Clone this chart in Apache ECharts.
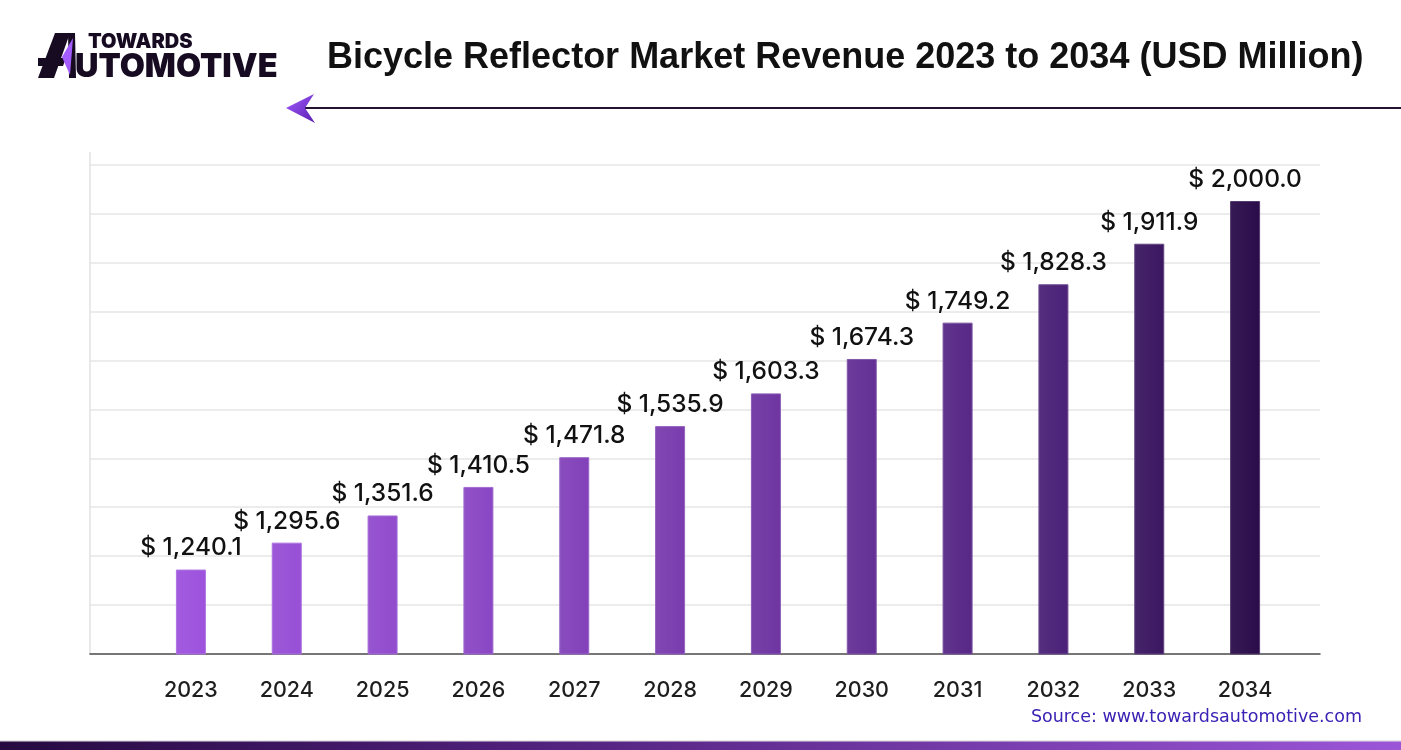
<!DOCTYPE html>
<html>
<head>
<meta charset="utf-8">
<script src="https://cdn.jsdelivr.net/npm/echarts@6/dist/echarts.min.js"></script>
<style>
html,body{margin:0;padding:0;background:#fff;}
#chart{width:1401px;height:750px;}
</style>
</head>
<body>
<div id="chart"></div>
<script>
// ---- data ----
const years = ['2023','2024','2025','2026','2027','2028','2029','2030','2031','2032','2033','2034'];
const revenue = [1240.1, 1295.6, 1351.6, 1410.5, 1471.8, 1535.9, 1603.3, 1674.3, 1749.2, 1828.3, 1911.9, 2000.0];
const titleText = 'Bicycle Reflector Market Revenue 2023 to 2034 (USD Million)';
const sourceText = 'Source: www.towardsautomotive.com';

// ---- styles ----
const barColors = ['#9d52dd','#974fd6','#914bcd','#8a46c4','#8241b9','#7a3cae','#6e35a2','#632f95','#572886','#4a2177','#3b1761','#2a0c4a'];

const chart = echarts.init(document.getElementById('chart'), null, {renderer:'canvas'});

function fmt(v){
  return '$ ' + v.toLocaleString('en-US',{minimumFractionDigits:1, maximumFractionDigits:1});
}

const option = {
  backgroundColor:'#ffffff',
  animation:false,
  title:{
    text:titleText,
    left:322, top:35,
    textStyle:{fontFamily:'Liberation Sans', fontWeight:'bold', fontSize:36, color:'#111111'}
  },
  grid:[
    {left:90, right:81, top:152.5, bottom:96},
    {left:143, right:108, top:152.5, bottom:96}
  ],
  xAxis:[
    {gridIndex:0, type:'value', min:0, max:1, axisLine:{show:true, lineStyle:{color:'#4a4a4a', width:1.5}},
     axisTick:{show:false}, axisLabel:{show:false}, splitLine:{show:false}},
    {gridIndex:1, type:'category', data:years, axisLine:{show:false}, axisTick:{show:false},
     axisLabel:{margin:26, fontFamily:'Inter', fontWeight:500, fontSize:21.5, color:'#1e1e1e'}}
  ],
  yAxis:[
    {gridIndex:0, type:'value', min:0, max:10.25, interval:1,
     axisLine:{show:true, lineStyle:{color:'#e2e2e2', width:1.5}}, axisTick:{show:false}, axisLabel:{show:false},
     splitLine:{show:true, showMinLine:false, showMaxLine:false, lineStyle:{color:'#e6e6e6', width:1.5}}},
    {gridIndex:1, type:'value', min:1066, max:2100, show:false, splitLine:{show:false}}
  ],
  series:[{
    type:'bar', xAxisIndex:1, yAxisIndex:1, barWidth:30,
    data: revenue.map((v,i)=>({value:v, itemStyle:{
      color:{type:'linear', x:0, y:0, x2:1, y2:0, colorStops:[
        {offset:0, color:echarts.color.lift(barColors[i], 0.06)},
        {offset:1, color:barColors[i]}]},
      borderColor:echarts.color.lift(barColors[i], 0.2), borderWidth:1}})),
    label:{show:true, position:'top', distance:9, formatter:p=>fmt(p.value),
      fontFamily:'Inter', fontWeight:500, fontSize:24.5, color:'#111111'}
  }],
  graphic:[
    // logo
    {type:'polygon', shape:{points:[[55,33],[70,33],[54,78],[38,78]]}, style:{fill:'#170b22'}},
    {type:'polygon', shape:{points:[[38,58],[66,58],[63,66],[38,66]]}, style:{fill:'#170b22'}},
    {type:'polygon', shape:{points:[[68,33],[75,33],[76,78],[69,78]]}, style:{fill:'#170b22'}},
    {type:'polygon', shape:{points:[[73,38],[70,75],[62,57]]}, style:{fill:'#a35cff'}},
    {type:'text', x:88, y:42, style:{text:'TOWARDS', fontFamily:'Inter', fontWeight:900, fontSize:20, fill:'#170b22', verticalAlign:'middle'}},
    {type:'text', x:75, y:67, style:{text:'UTOMOTIVE', fontFamily:'Inter', fontWeight:900, fontSize:32.5, fill:'#170b22', verticalAlign:'middle'}},
    // arrow line
    {type:'line', shape:{x1:304, y1:108, x2:1401, y2:108}, style:{stroke:'#24122f', lineWidth:2}},
    {type:'polygon', shape:{points:[[286,108],[314,94],[305,108],[315,123]]},
      style:{fill:{type:'linear', x:0, y:0, x2:1, y2:1, colorStops:[{offset:0,color:'#a35cff'},{offset:1,color:'#5a1fb0'}]}}},
    // source
    {type:'text', x:1362, y:717, style:{text:sourceText, fontFamily:'DejaVu Sans', fontSize:17.5, fill:'#3b22b5', align:'right', verticalAlign:'middle'}},
    // bottom band
    {type:'rect', shape:{x:0, y:740.5, width:1401, height:1}, style:{fill:'#d0d0d0'}},
    {type:'rect', shape:{x:0, y:741.5, width:1401, height:8.5},
      style:{fill:{type:'linear', x:0, y:0, x2:1, y2:0, colorStops:[{offset:0,color:'#260a40'},{offset:0.35,color:'#4d1f78'},{offset:1,color:'#9b56d8'}]}}}
  ]
};
chart.setOption(option);
</script>
</body>
</html>
